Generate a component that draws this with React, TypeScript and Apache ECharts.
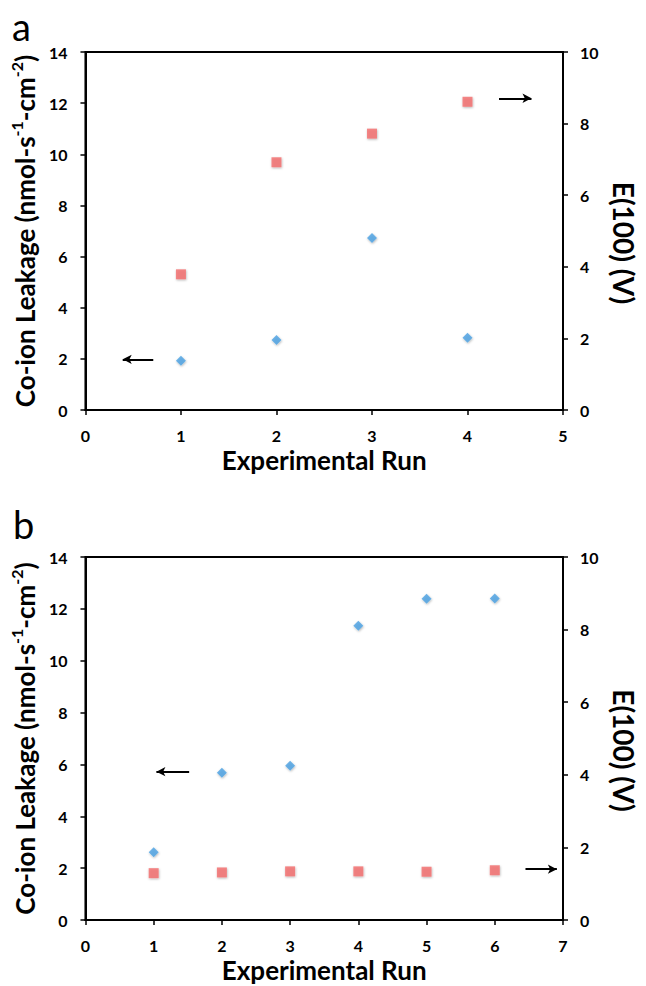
import React, { useEffect, useRef } from "react";
import * as echarts from "echarts";

// Panel a
const runsA = [1, 2, 3, 4];
const leakageA = [1.93, 2.74, 6.73, 2.83];
const e100A = [3.79, 6.92, 7.72, 8.61];
// Panel b
const runsB = [1, 2, 3, 4, 5, 6];
const leakageB = [2.61, 5.68, 5.95, 11.35, 12.39, 12.4];
const e100B = [1.29, 1.31, 1.34, 1.34, 1.33, 1.37];

// Arrow annotations in (run, leakage) data coordinates: [fromX, fromY, toX, toY]
const arrowsA = [
  [0.71, 1.98, 0.39, 1.98],
  [4.33, 12.19, 4.67, 12.19],
];
const arrowsB = [
  [1.52, 5.72, 1.04, 5.72],
  [6.45, 1.96, 6.91, 1.96],
];

const xTicksA = { min: 0, max: 5, interval: 1 };
const xTicksB = { min: 0, max: 7, interval: 1 };
const leftTicks = { min: 0, max: 14, interval: 2 };
const rightTicks = { min: 0, max: 10, interval: 2 };

const FONT = "Lato, 'Open Sans', sans-serif";
const BLUE = "#4aa0e2";
const RED = "#f26a6a";

export default function App() {
  const ref = useRef<HTMLDivElement>(null);
  useEffect(() => {
    if (!ref.current) return;
    const chart = echarts.init(ref.current, null, { renderer: "svg" });

    const labelStyle = {
      color: "#000",
      fontFamily: FONT,
      fontWeight: "bold" as const,
      fontSize: 16,
    };
    const axisLine = { show: true, lineStyle: { color: "#000", width: 2 } };
    const axisTick = { show: true, length: 5, lineStyle: { color: "#000", width: 1.5 } };

    const leftName =
      "{t|Co-ion Leakage (nmol-s}{s|-1}{t|-cm}{s|-2}{t|)}";
    const leftNameStyle = {
      rich: {
        t: { fontSize: 26, fontWeight: "bold", fontFamily: FONT, color: "#000", lineHeight: 30, verticalAlign: "bottom" },
        s: { fontSize: 16, fontWeight: "bold", fontFamily: FONT, color: "#000", lineHeight: 18, verticalAlign: "top" },
      },
    };
    const rightNameStyle = {
      fontSize: 28,
      fontWeight: "bold",
      fontFamily: FONT,
      color: "#000",
      padding: [0, 0, 0, 24],
    };
    const xNameStyle = { fontSize: 26, fontWeight: "bold", fontFamily: FONT, color: "#000" };

    const mkX = (gi: number, t: any) => ({
      type: "value",
      gridIndex: gi,
      ...t,
      name: "Experimental Run",
      nameLocation: "middle",
      nameGap: 37,
      nameTextStyle: xNameStyle,
      axisLine,
      axisTick,
      axisLabel: { ...labelStyle, margin: 17 },
      splitLine: { show: false },
    });
    const mkYL = (gi: number) => ({
      type: "value",
      gridIndex: gi,
      position: "left",
      ...leftTicks,
      name: leftName,
      nameLocation: "middle",
      nameRotate: 90,
      nameGap: 43,
      nameTextStyle: leftNameStyle,
      axisLine,
      axisTick,
      axisLabel: { ...labelStyle, margin: 18 },
      splitLine: { show: false },
    });
    const mkYR = (gi: number) => ({
      type: "value",
      gridIndex: gi,
      position: "right",
      ...rightTicks,
      name: "E(100) (V)",
      nameLocation: "middle",
      nameRotate: -90,
      nameGap: 47,
      nameTextStyle: rightNameStyle,
      axisLine,
      axisTick,
      axisLabel: { ...labelStyle, margin: 17 },
      splitLine: { show: false },
    });

    const mkArrows = (arr: number[][]) => ({
      silent: true,
      symbol: ["none", "arrow"],
      symbolSize: [7, 9],
      label: { show: false },
      lineStyle: { color: "#000", width: 2, type: "solid" },
      emphasis: { disabled: true },
      data: arr.map((a) => [
        { coord: [a[0], a[1]] },
        { coord: [a[2], a[3]] },
      ]),
    });

    const shadow = {
      shadowBlur: 2,
      shadowColor: "rgba(0,0,0,0.35)",
      shadowOffsetX: 0.5,
      shadowOffsetY: 1,
    };

    chart.setOption({
      animation: false,
      backgroundColor: "#fff",
      grid: [
        { left: 85, top: 52, width: 478, height: 358, show: true, borderColor: "#000", borderWidth: 2, backgroundColor: "transparent" },
        { left: 83.5, top: 557, width: 482.5, height: 363, show: true, borderColor: "#000", borderWidth: 2, backgroundColor: "transparent" },
      ],
      graphic: [
        { type: "text", left: 12, top: 7, style: { text: "a", fontSize: 38, fontFamily: FONT, fill: "#000" } },
        { type: "text", left: 13, top: 505, style: { text: "b", fontSize: 38, fontFamily: FONT, fill: "#000" } },
      ],
      xAxis: [mkX(0, xTicksA), mkX(1, xTicksB)],
      yAxis: [mkYL(0), mkYR(0), mkYL(1), mkYR(1)],
      series: [
        {
          type: "scatter",
          xAxisIndex: 0,
          yAxisIndex: 0,
          symbol: "diamond",
          symbolSize: 10,
          itemStyle: { color: BLUE, ...shadow },
          data: runsA.map((r, i) => [r, leakageA[i]]),
          markLine: mkArrows(arrowsA),
        },
        {
          type: "scatter",
          xAxisIndex: 0,
          yAxisIndex: 1,
          symbol: "rect",
          symbolSize: 10,
          itemStyle: { color: RED, ...shadow },
          data: runsA.map((r, i) => [r, e100A[i]]),
        },
        {
          type: "scatter",
          xAxisIndex: 1,
          yAxisIndex: 2,
          symbol: "diamond",
          symbolSize: 10,
          itemStyle: { color: BLUE, ...shadow },
          data: runsB.map((r, i) => [r, leakageB[i]]),
          markLine: mkArrows(arrowsB),
        },
        {
          type: "scatter",
          xAxisIndex: 1,
          yAxisIndex: 3,
          symbol: "rect",
          symbolSize: 10,
          itemStyle: { color: RED, ...shadow },
          data: runsB.map((r, i) => [r, e100B[i]]),
        },
      ],
    });
    return () => chart.dispose();
  }, []);
  return (
    <div
      ref={ref}
      style={{ position: "absolute", left: 0, top: 0, width: 646, height: 986 }}
    />
  );
}
